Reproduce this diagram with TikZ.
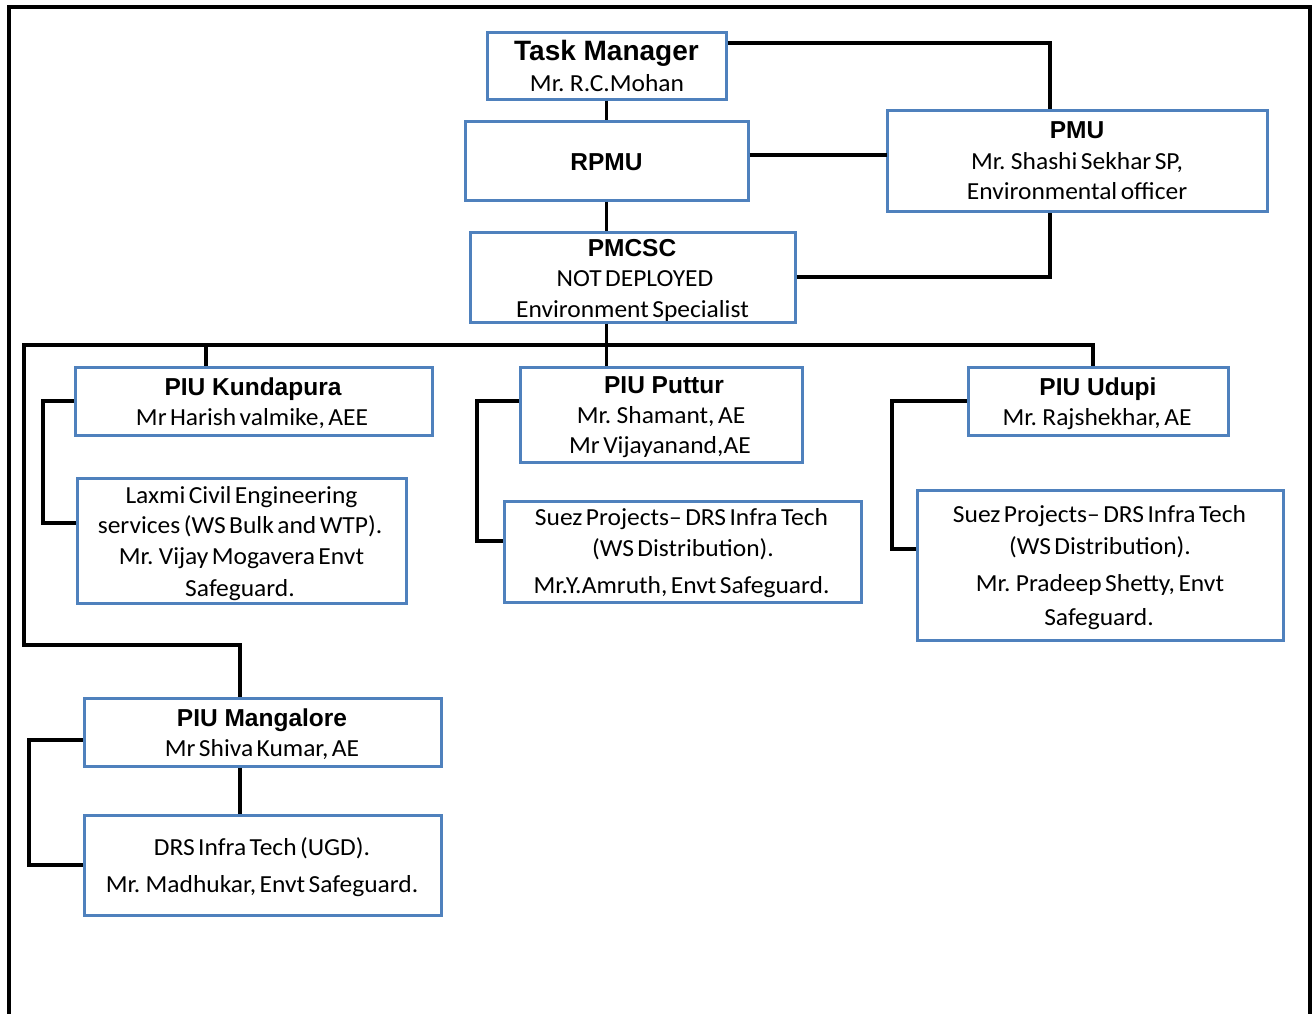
\documentclass[tikz,border=0pt]{standalone}
\usepackage{fontspec}
\newfontfamily\bodyf[FakeStretch=1.04,WordSpace=0.6]{Carlito}
\newfontfamily\titlef{Liberation Sans}
\definecolor{boxblue}{HTML}{4F81BD}
\begin{document}
\begin{tikzpicture}[x=1pt,y=-1pt,
  box/.style={draw=boxblue, line width=3pt, fill=white, inner sep=0pt},
  conn/.style={draw=black, line width=3.2pt, line join=miter},
  ttl/.style={anchor=base, inner sep=0pt, font=\titlef\bfseries\fontsize{24.5}{28}\selectfont},
  txt/.style={anchor=base, inner sep=0pt, font=\bodyf\fontsize{24.5}{28}\selectfont}]
\useasboundingbox (0,0) rectangle (1315,1013);
\fill[white] (0,0) rectangle (1315,1013);
% outer frame
\draw[line width=4pt, line join=miter] (8.5,1030) -- (8.5,7) -- (1310,7) -- (1310,1030);

% boxes
\node[box, minimum width=239pt, minimum height=67pt] (tm) at (606.5,65.5) {};
\node[box, minimum width=283pt, minimum height=79pt] (rpmu) at (606.5,160.5) {};
\node[box, minimum width=325pt, minimum height=90pt] (pmcsc) at (632.5,277) {};
\node[box, minimum width=380pt, minimum height=101pt] (pmu) at (1077,160.5) {};
\node[box, minimum width=357pt, minimum height=68pt] (kund) at (253.5,401) {};
\node[box, minimum width=329pt, minimum height=125pt] (laxmi) at (241.5,540.5) {};
\node[box, minimum width=282pt, minimum height=95pt] (putt) at (661,414.5) {};
\node[box, minimum width=357pt, minimum height=101pt] (suezp) at (682.5,551.5) {};
\node[box, minimum width=260pt, minimum height=68pt] (udupi) at (1098,401) {};
\node[box, minimum width=366pt, minimum height=150pt] (suezu) at (1100,565) {};
\node[box, minimum width=357pt, minimum height=68pt] (mang) at (262.5,732) {};
\node[box, minimum width=357pt, minimum height=100pt] (drs) at (262.5,865) {};

% junction coordinates
\coordinate (j1) at (1050,43);
\coordinate (j2) at (887,155);
\coordinate (j3) at (1050,277);
\coordinate (b0) at (606.5,345);
\coordinate (bl) at (24,345);
\coordinate (br) at (1093,345);
\coordinate (dk) at (206,345);
\coordinate (lm) at (24,645);
\coordinate (lm2) at (240,645);
\coordinate (k1) at (43,401);
\coordinate (k2) at (43,523);
\coordinate (p1) at (477,401);
\coordinate (p2) at (477,541);
\coordinate (u1) at (892,401);
\coordinate (u2) at (892,549);
\coordinate (m1) at (29,740);
\coordinate (m2) at (29,865);

% connectors
\draw[conn] (tm.south) -- (rpmu.north);
\draw[conn] (tm.east |- j1) -- (j1) -- (j1 |- pmu.north);
\draw[conn] (j2 -| rpmu.east) -- (j2);
\draw[conn] (pmcsc.east |- j3) -- (j3) -- (j3 |- pmu.south);
\draw[conn] (rpmu.south) -- (rpmu.south |- pmcsc.north);
\draw[conn] (pmcsc.south -| b0) -- (b0);
\draw[conn] (br |- udupi.north) -- (br) -- (bl) -- (lm) -- (lm2) -- (lm2 |- mang.north);
\draw[conn] (dk) -- (dk |- kund.north);
\draw[conn] (b0) -- (b0 |- putt.north);
\draw[conn] (kund.west) -- (k1) -- (k2) -- (k2 -| laxmi.west);
\draw[conn] (p1 -| putt.west) -- (p1) -- (p2) -- (p2 -| suezp.west);
\draw[conn] (udupi.west) -- (u1) -- (u2) -- (u2 -| suezu.west);
\draw[conn] (m1 -| mang.west) -- (m1) -- (m2) -- (drs.west);
\draw[conn] (lm2 |- mang.south) -- (lm2 |- drs.north);

% texts
\node[ttl, font=\titlef\bfseries\fontsize{28}{32}\selectfont] (tm1) at (606.5,60) {Task Manager};
\node[txt] (tm2) at (607,91.5) {Mr. R.C.Mohan};
\node[ttl] (rp1) at (606.5,170) {RPMU};
\node[ttl] (pc1) at (632,256) {PMCSC};
\node[txt] (pc2) at (635,286) {NOT DEPLOYED};
\node[txt] (pc3) at (632.5,317) {Environment Specialist};
\node[ttl] (pm1) at (1077,138) {PMU};
\node[txt] (pm2) at (1077,169) {Mr. Shashi Sekhar SP,};
\node[txt] (pm3) at (1077,199) {Environmental officer};
\node[ttl] (ku1) at (253,395) {PIU Kundapura};
\node[txt] (ku2) at (252,425.5) {Mr Harish valmike, AEE};
\node[txt] (lx1) at (241.5,503) {Laxmi Civil Engineering};
\node[txt] (lx2) at (240,533.5) {services (WS Bulk and WTP).};
\node[txt] (lx3) at (241.5,564.5) {Mr. Vijay Mogavera Envt};
\node[txt] (lx4) at (240,596.5) {Safeguard.};
\node[ttl] (pu1) at (664,393.5) {PIU Puttur};
\node[txt] (pu2) at (661,423) {Mr. Shamant, AE};
\node[txt] (pu3) at (660,453) {Mr Vijayanand,AE};
\node[txt] (sp1) at (681.5,525) {Suez Projects– DRS Infra Tech};
\node[txt] (sp2) at (683,556.5) {(WS Distribution).};
\node[txt] (sp3) at (681.5,593) {Mr.Y.Amruth, Envt Safeguard.};
\node[ttl] (ud1) at (1098,395) {PIU Udupi};
\node[txt] (ud2) at (1097,425) {Mr. Rajshekhar, AE};
\node[txt] (su1) at (1099.5,522.5) {Suez Projects– DRS Infra Tech};
\node[txt] (su2) at (1100,554) {(WS Distribution).};
\node[txt] (su3) at (1100,591.5) {Mr. Pradeep Shetty, Envt};
\node[txt] (su4) at (1099,625) {Safeguard.};
\node[ttl] (mg1) at (262,726) {PIU Mangalore};
\node[txt] (mg2) at (262,756.5) {Mr Shiva Kumar, AE};
\node[txt] (dr1) at (262,855) {DRS Infra Tech (UGD).};
\node[txt] (dr2) at (262,892.5) {Mr. Madhukar, Envt Safeguard.};
\end{tikzpicture}
\end{document}
